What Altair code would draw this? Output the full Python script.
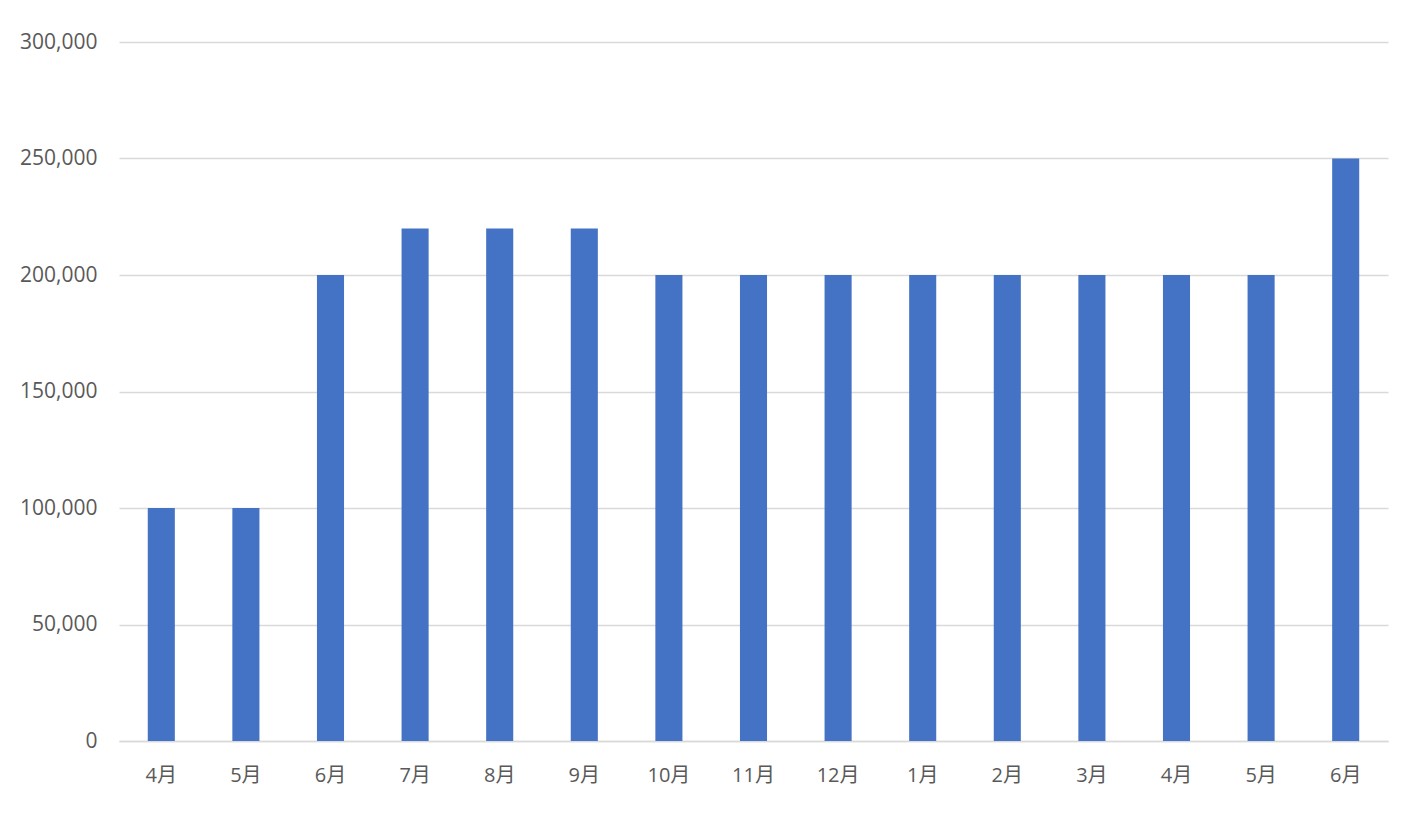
import json
import altair as alt
import pandas as pd

months = ["4月", "5月", "6月", "7月", "8月", "9月", "10月", "11月", "12月", "1月", "2月", "3月", "4月", "5月", "6月"]
values = [100000, 100000, 200000, 220000, 220000, 220000, 200000, 200000, 200000, 200000, 200000, 200000, 200000, 200000, 250000]

df = pd.DataFrame({"idx": list(range(len(months))), "month": months, "value": values})
label_expr = json.dumps(months, ensure_ascii=False) + "[datum.value]"

font = "Open Sans, Noto Sans CJK JP"

chart = alt.Chart(df).mark_bar(color="#4472C4").encode(
    x=alt.X("idx:O", title=None,
            scale=alt.Scale(paddingInner=0.68, paddingOuter=0.34),
            axis=alt.Axis(labelExpr=label_expr, labelAngle=0, labelFontSize=20,
                          labelColor="#595959", labelFont=font, labelPadding=24,
                          ticks=False, domain=True, domainColor="#d9d9d9", domainWidth=1.5,
                          grid=False)),
    y=alt.Y("value:Q", title=None,
            scale=alt.Scale(domain=[0, 300000], nice=False),
            axis=alt.Axis(values=[0, 50000, 100000, 150000, 200000, 250000, 300000],
                          format=",.0f", labelFontSize=21, labelColor="#595959", labelFont=font,
                          labelPadding=22, ticks=False, domain=False,
                          gridColor="#d9d9d9", gridWidth=1.5)),
).properties(
    width=1269, height=699,
    background="white",
    autosize=alt.AutoSizeParams(type="none"),
    padding={"left": 111, "top": 34, "right": 15, "bottom": 57},
).configure_view(stroke="transparent", strokeWidth=0)

chart.save("out.html", embed_options={"renderer": "svg", "actions": False})
